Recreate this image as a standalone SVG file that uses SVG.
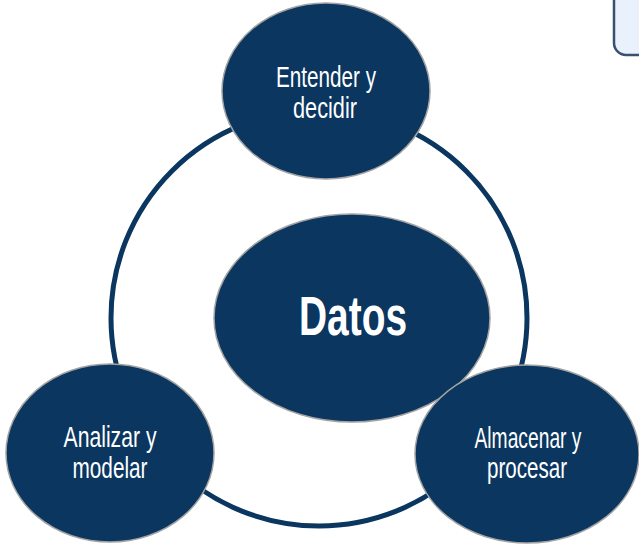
<svg xmlns="http://www.w3.org/2000/svg" width="639" height="544" viewBox="0 0 639 544">
<style>
.node{fill:#0a365f;stroke:#a3a3a3;stroke-width:1.5}
.lbl{fill:#ffffff;font-family:"Liberation Sans",Arial,sans-serif;font-size:30px;text-anchor:middle}
.big{fill:#ffffff;font-family:"Liberation Sans",Arial,sans-serif;font-size:55px;font-weight:bold;text-anchor:middle}
</style>
<rect width="639" height="544" fill="#ffffff"/>
<rect x="614" y="-20" width="60" height="75" rx="12" fill="#e9f1fc" stroke="#3a5070" stroke-width="2.5"/>
<g id="connectors">
<circle cx="319" cy="318" r="208" fill="none" stroke="#0a365f" stroke-width="5"/>
</g>
<g id="datos">
<ellipse class="node" cx="352" cy="318" rx="138" ry="104"/>
<text class="big" x="353" y="335" textLength="108" lengthAdjust="spacingAndGlyphs">Datos</text>
</g>
<g id="entender">
<ellipse class="node" cx="326" cy="91" rx="104" ry="88"/>
<text class="lbl" x="326" y="87" textLength="100" lengthAdjust="spacingAndGlyphs">Entender y</text>
<text class="lbl" x="325" y="118" textLength="64" lengthAdjust="spacingAndGlyphs">decidir</text>
</g>
<g id="analizar">
<ellipse class="node" cx="110" cy="453" rx="104" ry="89"/>
<text class="lbl" x="110" y="447" textLength="93" lengthAdjust="spacingAndGlyphs">Analizar y</text>
<text class="lbl" x="110" y="478" textLength="75" lengthAdjust="spacingAndGlyphs">modelar</text>
</g>
<g id="almacenar">
<ellipse class="node" cx="527" cy="454" rx="112" ry="89"/>
<text class="lbl" x="528" y="448" textLength="107" lengthAdjust="spacingAndGlyphs">Almacenar y</text>
<text class="lbl" x="527" y="478" textLength="80" lengthAdjust="spacingAndGlyphs">procesar</text>
</g>
</svg>
